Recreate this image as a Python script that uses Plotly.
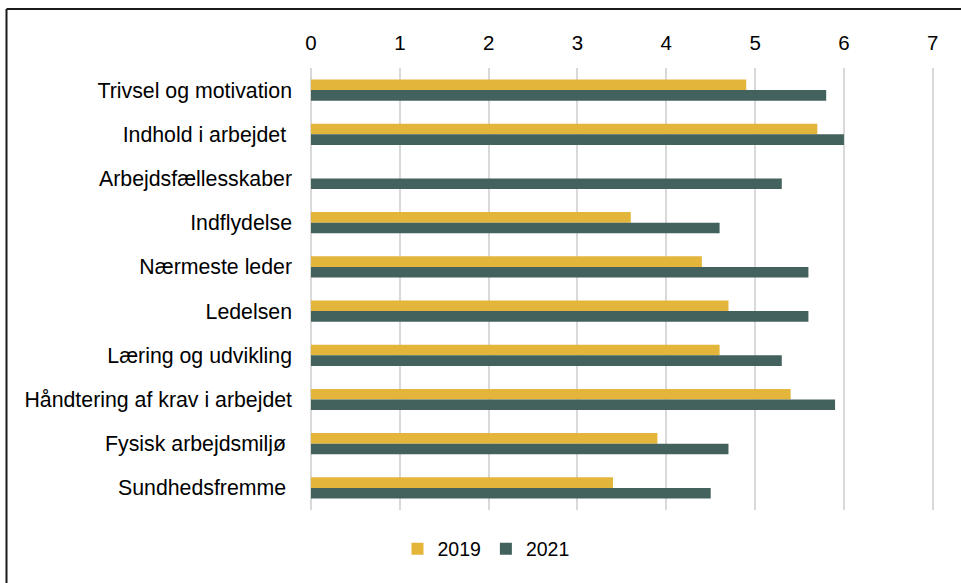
import plotly.graph_objects as go

categories = [
    "Trivsel og motivation",
    "Indhold i arbejdet\u00a0",
    "Arbejdsfællesskaber",
    "Indflydelse",
    "Nærmeste leder",
    "Ledelsen",
    "Læring og udvikling",
    "Håndtering af krav i arbejdet",
    "Fysisk arbejdsmiljø\u00a0",
    "Sundhedsfremme\u00a0",
]
values_2019 = [4.9, 5.7, None, 3.6, 4.4, 4.7, 4.6, 5.4, 3.9, 3.4]
values_2021 = [5.8, 6.0, 5.3, 4.6, 5.6, 5.6, 5.3, 5.9, 4.7, 4.5]
series_names = ["2019", "2021"]
x_ticks = [0, 1, 2, 3, 4, 5, 6, 7]

W, H = 961, 583
L, R, T, B = 311, 26, 68, 73
pw, ph = W - L - R, H - T - B

def px_x(p):
    return (p - L) / pw

def px_y(q):
    return (H - B - q) / ph

FONT = "Arial, Liberation Sans, sans-serif"

fig = go.Figure()
fig.add_trace(go.Bar(y=categories, x=values_2019, name=series_names[0], orientation="h",
                     marker=dict(color="#E3B53B", line=dict(width=0))))
fig.add_trace(go.Bar(y=categories, x=values_2021, name=series_names[1], orientation="h",
                     marker=dict(color="#43625E", line=dict(width=0))))

fig.update_layout(
    width=W, height=H,
    margin=dict(l=L, r=R, t=T, b=B),
    paper_bgcolor="white", plot_bgcolor="white",
    barmode="group", bargap=0.52, bargroupgap=0,
    font=dict(family=FONT, size=21, color="#000000"),
    showlegend=True,
    legend=dict(orientation="h", x=px_x(486), xanchor="center", y=px_y(549), yanchor="middle",
                font=dict(size=19.5), itemwidth=30, traceorder="normal"),
    xaxis=dict(range=[0, 7.025], side="top", tickvals=x_ticks, showgrid=True, gridcolor="#D9D9D9",
               gridwidth=1.5, zeroline=True, zerolinecolor="#D9D9D9", zerolinewidth=1.5,
               showline=False, ticks="", ticklabelstandoff=13, tickfont=dict(size=20.5)),
    yaxis=dict(autorange="reversed", showgrid=False, zeroline=False, showline=False, ticks="",
               ticklabelstandoff=18, tickfont=dict(size=21.3)),
    shapes=[
        dict(type="line", xref="paper", yref="paper", x0=px_x(6.5), x1=px_x(W + 20),
             y0=px_y(9), y1=px_y(9), line=dict(color="#1a1a1a", width=2)),
        dict(type="line", xref="paper", yref="paper", x0=px_x(6.5), x1=px_x(6.5),
             y0=px_y(9), y1=px_y(H + 20), line=dict(color="#1a1a1a", width=2)),
    ],
)

fig.write_html("out.html", config={"displayModeBar": False},
               post_script="document.body.style.margin='0';document.body.style.overflow='hidden';")
